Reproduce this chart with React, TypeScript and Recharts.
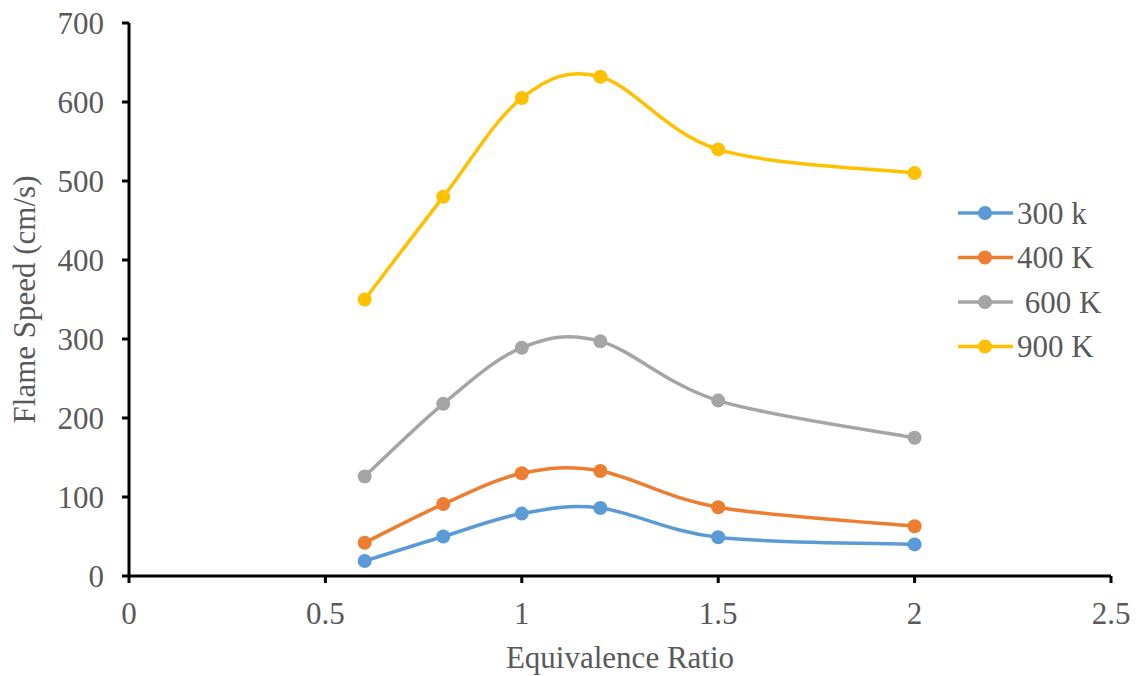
import { LineChart, Line, XAxis, YAxis } from 'recharts';

// Flame speed vs equivalence ratio for several initial temperatures
const ratios = [0.6, 0.8, 1.0, 1.2, 1.5, 2.0];
const speed300 = [19, 50, 79, 86, 49, 40];
const speed400 = [42, 91, 130, 133, 87, 63];
const speed600 = [126, 218, 289, 297, 222, 175];
const speed900 = [350, 480, 605, 632, 540, 510];

const xTicks = [0, 0.5, 1, 1.5, 2, 2.5];
const yTicks = [0, 100, 200, 300, 400, 500, 600, 700];

const series = [
  { key: 's300', name: '300 k', color: '#5B9BD5', values: speed300 },
  { key: 's400', name: '400 K', color: '#ED7D31', values: speed400 },
  { key: 's600', name: '\u00a0600 K', color: '#A5A5A5', values: speed600 },
  { key: 's900', name: '900 K', color: '#FFC000', values: speed900 },
];

const data = ratios.map((r, i) => {
  const row: any = { ratio: r };
  series.forEach((s) => (row[s.key] = s.values[i]));
  return row;
});

const FONT = '"Liberation Serif", "Times New Roman", serif';
const TEXT = '#595959';
const FS = 31;

// Excel-like smoothed line (Catmull-Rom as cubic beziers)
const smoothCurve = (context: any) => {
  let pts: number[][] = [];
  return {
    areaStart() {},
    areaEnd() {},
    lineStart() {
      pts = [];
    },
    point(x: number, y: number) {
      pts.push([x, y]);
    },
    lineEnd() {
      if (!pts.length) return;
      context.moveTo(pts[0][0], pts[0][1]);
      for (let i = 0; i < pts.length - 1; i++) {
        const p0 = pts[i - 1] || pts[i];
        const p1 = pts[i];
        const p2 = pts[i + 1];
        const p3 = pts[i + 2] || pts[i + 1];
        context.bezierCurveTo(
          p1[0] + (p2[0] - p0[0]) / 6,
          p1[1] + (p2[1] - p0[1]) / 6,
          p2[0] - (p3[0] - p1[0]) / 6,
          p2[1] - (p3[1] - p1[1]) / 6,
          p2[0],
          p2[1]
        );
      }
    },
  };
};

const YLabel = ({ viewBox }: any) => {
  const x = viewBox.x + 24;
  const y = viewBox.y + viewBox.height / 2;
  return (
    <text x={x} y={y} transform={`rotate(-90, ${x}, ${y})`} textAnchor="middle" dominantBaseline="central"
      fill={TEXT} fontSize={FS} fontFamily={FONT}>
      Flame Speed (cm/s)
    </text>
  );
};

const XLabel = ({ viewBox }: any) => (
  <text x={viewBox.x + viewBox.width / 2} y={668} textAnchor="middle" fill={TEXT} fontSize={FS} fontFamily={FONT}>
    Equivalence Ratio
  </text>
);

export default function App() {
  return (
    <div style={{ position: 'absolute', left: 0, top: 0, width: 1139, height: 676, background: '#fff' }}>
      <LineChart width={1139} height={676} data={data} margin={{ top: 23, right: 28, left: 0, bottom: 0 }}>
        <XAxis
          dataKey="ratio"
          type="number"
          domain={[0, 2.5]}
          ticks={xTicks}
          height={100}
          axisLine={{ stroke: '#000', strokeWidth: 3 }}
          tickLine={{ stroke: '#000', strokeWidth: 3 }}
          tickSize={7}
          tickMargin={19}
          tick={{ fill: TEXT, fontSize: FS, fontFamily: FONT }}
          label={<XLabel />}
        />
        <YAxis
          type="number"
          domain={[0, 700]}
          ticks={yTicks}
          width={129}
          axisLine={{ stroke: '#000', strokeWidth: 3 }}
          tickLine={{ stroke: '#000', strokeWidth: 3 }}
          tickSize={7}
          tickMargin={18}
          tick={{ fill: TEXT, fontSize: FS, fontFamily: FONT }}
          label={<YLabel />}
        />
        {series.map((s) => (
          <Line
            key={s.key}
            dataKey={s.key}
            name={s.name}
            type={smoothCurve as any}
            stroke={s.color}
            strokeWidth={3.5}
            dot={{ r: 7, fill: s.color, stroke: 'none' }}
            activeDot={false}
            isAnimationActive={false}
          />
        ))}
      </LineChart>
      <svg style={{ position: 'absolute', left: 950, top: 190 }} width={189} height={180}>
        {series.map((s, i) => {
          const cy = 23 + i * 44.5;
          return (
            <g key={s.key}>
              <line x1={8} x2={63} y1={cy} y2={cy} stroke={s.color} strokeWidth={3.5} />
              <circle cx={35} cy={cy} r={7} fill={s.color} />
              <text x={67} y={cy} dominantBaseline="central" fill={TEXT} fontSize={FS} fontFamily={FONT}>
                {s.name}
              </text>
            </g>
          );
        })}
      </svg>
    </div>
  );
}
